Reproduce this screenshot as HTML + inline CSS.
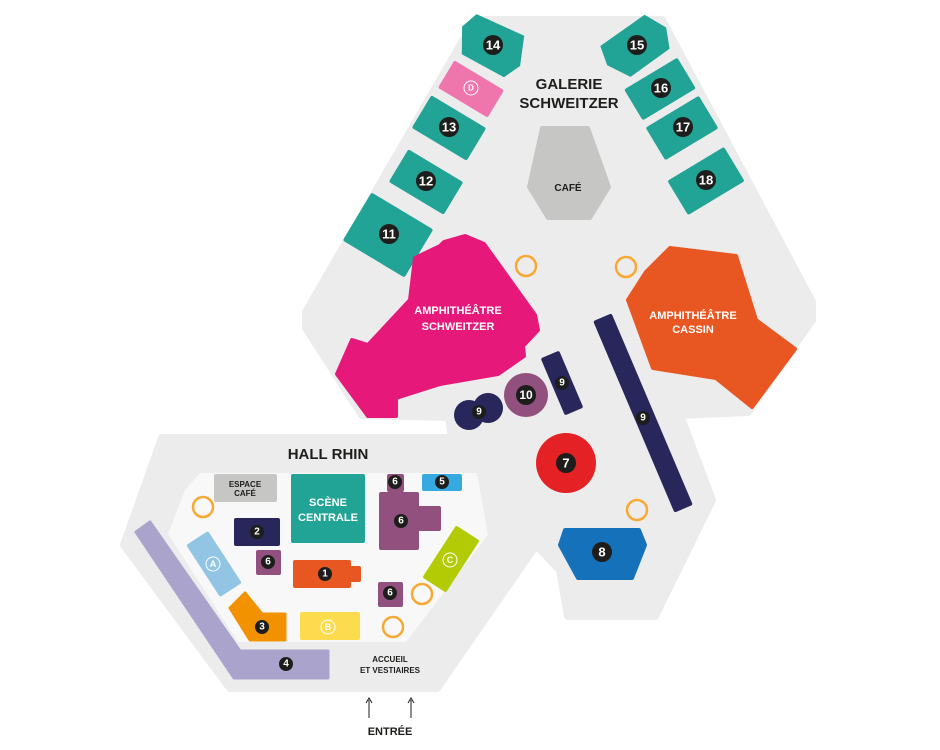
<!DOCTYPE html>
<html><head><meta charset="utf-8"><style>
html,body{margin:0;padding:0;background:#fff;}
svg{display:block;}
text{font-family:"Liberation Sans",sans-serif;font-weight:bold;}
.n{fill:#fff;text-anchor:middle;dominant-baseline:central;font-size:13px;}
.s{fill:#fff;text-anchor:middle;dominant-baseline:central;font-size:10px;}
.w{fill:#fff;text-anchor:middle;font-size:11px;}
.o{fill:none;stroke:#f7a934;stroke-width:2.5;}
</style></head><body>
<svg width="940" height="750" viewBox="0 0 940 750" xmlns="http://www.w3.org/2000/svg">
<!-- grey floor -->
<polygon points="475,20 662,20 812,302 812,320 748,412 680,415 712,500 655,616 568,616 560,570 536,545 437,688 230,688 124,545 162,438 452,438 449,417 362,415 306,328 306,312" fill="#ececec" stroke="#ececec" stroke-width="8" stroke-linejoin="round"/>
<!-- hall inner -->
<polygon points="200,473 477,473 488,535 406,642 238,642 168,534 185,490" fill="#f8f8f8"/>

<!-- left stands -->
<g transform="translate(493,45) rotate(31)"><polygon points="-30,-18 22,-24 34,4 26,22 -22,24 -36,0" fill="#21a396"/></g>
<g transform="translate(471,89) rotate(31)"><rect x="-29" y="-16" width="58" height="32" rx="2" fill="#ee76ad"/></g>
<circle cx="471" cy="88" r="7" fill="none" stroke="#fff" stroke-width="1"/><text x="471" y="88" class="s" style="font-size:8px">D</text>
<g transform="translate(449,128) rotate(31)"><rect x="-32" y="-19" width="64" height="38" rx="2" fill="#21a396"/></g>
<g transform="translate(426,182) rotate(31)"><rect x="-32" y="-19" width="64" height="38" rx="2" fill="#21a396"/></g>
<g transform="translate(388,235) rotate(31)"><rect x="-36" y="-28" width="72" height="56" rx="2" fill="#21a396"/></g>
<!-- right stands -->
<g transform="translate(637,45) rotate(-31)"><polygon points="-32,-18 22,-22 34,0 26,20 -22,24 -36,2" fill="#21a396"/></g>
<g transform="translate(660,89) rotate(-31)"><rect x="-31" y="-18" width="62" height="36" rx="2" fill="#21a396"/></g>
<g transform="translate(682,128) rotate(-31)"><rect x="-31" y="-19" width="62" height="38" rx="2" fill="#21a396"/></g>
<g transform="translate(706,181) rotate(-31)"><rect x="-33" y="-20" width="66" height="40" rx="2" fill="#21a396"/></g>

<circle cx="493" cy="45" r="10" fill="#1d1d1b"/><text x="493" y="45" class="n">14</text>
<circle cx="449" cy="127" r="10" fill="#1d1d1b"/><text x="449" y="127" class="n">13</text>
<circle cx="426" cy="181" r="10" fill="#1d1d1b"/><text x="426" y="181" class="n">12</text>
<circle cx="389" cy="234" r="10" fill="#1d1d1b"/><text x="389" y="234" class="n">11</text>
<circle cx="637" cy="45" r="10" fill="#1d1d1b"/><text x="637" y="45" class="n">15</text>
<circle cx="661" cy="88" r="10" fill="#1d1d1b"/><text x="661" y="88" class="n">16</text>
<circle cx="683" cy="127" r="10" fill="#1d1d1b"/><text x="683" y="127" class="n">17</text>
<circle cx="706" cy="180" r="10" fill="#1d1d1b"/><text x="706" y="180" class="n">18</text>

<text x="569" y="89" style="font-size:15px;fill:#1d1d1b;text-anchor:middle">GALERIE</text>
<text x="569" y="108" style="font-size:15px;fill:#1d1d1b;text-anchor:middle">SCHWEITZER</text>

<polygon points="542,128 588,128 609,187 590,218 548,218 529,187" fill="#c6c6c4" stroke="#c6c6c4" stroke-width="4" stroke-linejoin="round"/>
<text x="568" y="191" style="font-size:10px;fill:#1d1d1b;text-anchor:middle">CAFÉ</text>

<circle cx="526" cy="266" r="10" class="o"/>
<circle cx="626" cy="267" r="10" class="o"/>

<!-- amphi schweitzer -->
<polygon points="410,300 415,258 440,246 444,242 465,236 484,244 535,315 538,330 523,346 524,356 498,374 440,384 396,398 396,416 368,416 337,374 352,340 368,345" fill="#e6197a" stroke="#e6197a" stroke-width="4" stroke-linejoin="round"/>
<text x="458" y="314" class="w">AMPHITHÉÂTRE</text>
<text x="458" y="330" class="w">SCHWEITZER</text>

<!-- amphi cassin -->
<polygon points="670,248 736,256 756,320 795,349 752,407 716,378 653,368 628,300 646,272" fill="#e85722" stroke="#e85722" stroke-width="4" stroke-linejoin="round"/>
<text x="693" y="319" class="w">AMPHITHÉÂTRE</text>
<text x="693" y="333" class="w">CASSIN</text>

<!-- 9 bars -->
<g transform="translate(643,413) rotate(67)"><rect x="-104" y="-10" width="208" height="20" rx="2" fill="#29265b"/></g>
<circle cx="643" cy="418" r="7" fill="#1d1d1b"/><text x="643" y="418" class="s">9</text>
<g transform="translate(562,383) rotate(67)"><rect x="-31" y="-10" width="62" height="20" rx="2" fill="#29265b"/></g>
<circle cx="562" cy="383" r="7" fill="#1d1d1b"/><text x="562" y="383" class="s">9</text>
<circle cx="488" cy="408" r="15" fill="#29265b"/>
<circle cx="469" cy="415" r="15" fill="#29265b"/>
<circle cx="479" cy="412" r="7" fill="#1d1d1b"/><text x="479" y="412" class="s">9</text>
<circle cx="526" cy="395" r="22" fill="#92507e"/>
<circle cx="526" cy="395" r="10" fill="#1d1d1b"/><text x="526" y="395" class="n" style="font-size:12px">10</text>

<circle cx="566" cy="463" r="30" fill="#e42124"/>
<circle cx="566" cy="463" r="10" fill="#1d1d1b"/><text x="566" y="463" class="n">7</text>
<circle cx="637" cy="510" r="10" class="o"/>
<polygon points="565,530 639,530 645,545 632,578 578,578 560,545" fill="#1571b9" stroke="#1571b9" stroke-width="4" stroke-linejoin="round"/>
<circle cx="602" cy="552" r="10" fill="#1d1d1b"/><text x="602" y="552" class="n">8</text>

<!-- hall rhin -->
<text x="328" y="459" style="font-size:15px;fill:#1d1d1b;text-anchor:middle">HALL RHIN</text>
<rect x="214" y="474" width="63" height="28" rx="2" fill="#c6c6c4"/>
<text x="245" y="487" style="font-size:8px;fill:#1d1d1b;text-anchor:middle">ESPACE</text>
<text x="245" y="496" style="font-size:8px;fill:#1d1d1b;text-anchor:middle">CAFÉ</text>
<rect x="291" y="474" width="74" height="69" rx="2" fill="#21a396"/>
<text x="328" y="506" class="w">SCÈNE</text>
<text x="328" y="521" class="w">CENTRALE</text>
<rect x="387" y="474" width="17" height="18" rx="2" fill="#92507e"/>
<circle cx="395" cy="482" r="7" fill="#1d1d1b"/><text x="395" y="482" class="s">6</text>
<rect x="422" y="474" width="40" height="17" rx="2" fill="#36a9e1"/>
<circle cx="442" cy="482" r="7" fill="#1d1d1b"/><text x="442" y="482" class="s">5</text>
<rect x="379" y="492" width="40" height="58" rx="2" fill="#92507e"/>
<rect x="400" y="506" width="41" height="25" rx="2" fill="#92507e"/>
<circle cx="401" cy="521" r="7" fill="#1d1d1b"/><text x="401" y="521" class="s">6</text>
<circle cx="203" cy="507" r="10" class="o"/>
<rect x="234" y="518" width="46" height="28" rx="2" fill="#29265b"/>
<circle cx="257" cy="532" r="7" fill="#1d1d1b"/><text x="257" y="532" class="s">2</text>
<rect x="256" y="550" width="25" height="25" rx="2" fill="#92507e"/>
<circle cx="268" cy="562" r="7" fill="#1d1d1b"/><text x="268" y="562" class="s">6</text>
<rect x="293" y="560" width="58" height="28" rx="2" fill="#e85722"/>
<rect x="345" y="566" width="16" height="16" rx="2" fill="#e85722"/>
<circle cx="325" cy="574" r="7" fill="#1d1d1b"/><text x="325" y="574" class="s">1</text>
<rect x="378" y="582" width="25" height="25" rx="2" fill="#92507e"/>
<circle cx="390" cy="593" r="7" fill="#1d1d1b"/><text x="390" y="593" class="s">6</text>
<g transform="translate(214,564) rotate(-33)"><rect x="-13" y="-31" width="26" height="62" rx="2" fill="#92c5e3"/></g>
<circle cx="213" cy="564" r="7" fill="none" stroke="#fff" stroke-width="1"/><text x="213" y="564" class="s" style="font-size:9px">A</text>
<g transform="translate(451,559) rotate(33)"><rect x="-14" y="-31" width="28" height="62" rx="2" fill="#b2cb05"/></g>
<circle cx="450" cy="560" r="7" fill="none" stroke="#fff" stroke-width="1"/><text x="450" y="560" class="s" style="font-size:9px">C</text>
<circle cx="422" cy="594" r="10" class="o"/>
<circle cx="393" cy="627" r="10" class="o"/>
<polygon points="230,608 245,593 262,614 285,614 285,640 250,640" fill="#f39200" stroke="#f39200" stroke-width="3" stroke-linejoin="round"/>
<circle cx="262" cy="627" r="7" fill="#1d1d1b"/><text x="262" y="627" class="s">3</text>
<rect x="300" y="612" width="60" height="28" rx="2" fill="#fcdc4e"/>
<circle cx="328" cy="627" r="7" fill="none" stroke="#fff" stroke-width="1"/><text x="328" y="627" class="s" style="font-size:9px">B</text>
<polygon points="136,532 150,522 240,651 328,651 328,678 234,678" fill="#aaa4cc" stroke="#aaa4cc" stroke-width="3" stroke-linejoin="round"/>
<circle cx="286" cy="664" r="7" fill="#1d1d1b"/><text x="286" y="664" class="s">4</text>
<text x="390" y="662" style="font-size:8px;fill:#1d1d1b;text-anchor:middle">ACCUEIL</text>
<text x="390" y="673" style="font-size:8px;fill:#1d1d1b;text-anchor:middle">ET VESTIAIRES</text>

<g stroke="#1d1d1b" stroke-width="1" fill="none">
<line x1="369" y1="718" x2="369" y2="700"/><polyline points="366,703 369,698 372,703"/>
<line x1="411" y1="718" x2="411" y2="700"/><polyline points="408,703 411,698 414,703"/>
</g>
<text x="390" y="735" style="font-size:11px;fill:#1d1d1b;text-anchor:middle">ENTRÉE</text>
</svg>
</body></html>
